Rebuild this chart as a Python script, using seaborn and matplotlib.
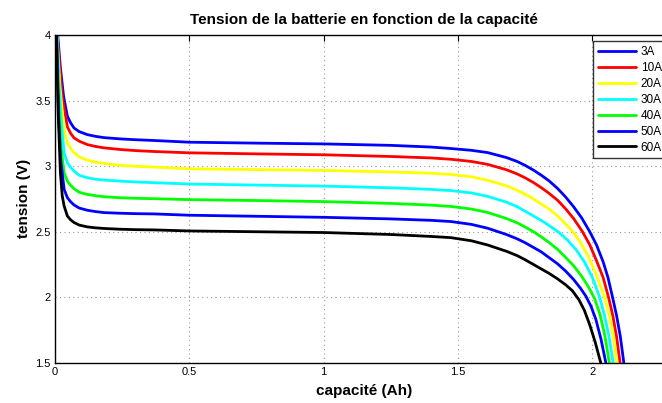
import numpy as np
import pandas as pd
import seaborn as sns
import matplotlib.pyplot as plt
from matplotlib import ticker

# courbes de décharge : capacité (Ah) / tension (V)
cap_3A = [0, 0.010, 0.020, 0.032, 0.046, 0.058, 0.071, 0.09, 0.12, 0.15, 0.182, 0.245, 0.3,
          0.369, 0.5, 0.75, 1.0, 1.25, 1.4, 1.473, 1.55, 1.61, 1.68, 1.72, 1.75, 1.78, 1.81,
          1.84, 1.87, 1.90, 1.93, 1.96, 1.99, 2.015, 2.04, 2.058, 2.075, 2.09, 2.104, 2.117]
v_3A = [4.4, 4.0, 3.75, 3.53, 3.38, 3.33, 3.29, 3.263, 3.24, 3.227, 3.217, 3.207, 3.201,
        3.195, 3.182, 3.175, 3.169, 3.158, 3.145, 3.134, 3.12, 3.103, 3.065, 3.035, 3.005, 2.97, 2.93,
        2.885, 2.83, 2.765, 2.69, 2.605, 2.5, 2.40, 2.27, 2.15, 2.0, 1.86, 1.70, 1.5]

cap_10A = [0, 0.008, 0.018, 0.027, 0.046, 0.058, 0.071, 0.09, 0.12, 0.15, 0.182, 0.245, 0.3,
           0.369, 0.5, 0.75, 1.0, 1.25, 1.4, 1.473, 1.55, 1.61, 1.68, 1.72, 1.75, 1.78, 1.81,
           1.84, 1.87, 1.90, 1.93, 1.963, 1.99, 2.015, 2.04, 2.06, 2.076, 2.09, 2.103]
v_10A = [4.4, 4.0, 3.75, 3.53, 3.30, 3.25, 3.215, 3.19, 3.164, 3.15, 3.139, 3.126, 3.118,
         3.111, 3.101, 3.093, 3.086, 3.073, 3.062, 3.052, 3.035, 3.013, 2.972, 2.94, 2.91, 2.875, 2.835,
         2.79, 2.74, 2.675, 2.60, 2.5, 2.40, 2.28, 2.15, 2.0, 1.86, 1.70, 1.5]

cap_20A = [0, 0.007, 0.018, 0.027, 0.034, 0.046, 0.058, 0.071, 0.09, 0.12, 0.15, 0.182, 0.245,
           0.3, 0.369, 0.5, 0.75, 1.0, 1.25, 1.4, 1.473, 1.55, 1.61, 1.68, 1.72, 1.75, 1.78,
           1.81, 1.84, 1.87, 1.90, 1.925, 1.955, 1.985, 2.015, 2.045, 2.063, 2.078, 2.09]
v_20A = [4.4, 4.0, 3.62, 3.42, 3.278, 3.177, 3.135, 3.101, 3.07, 3.045, 3.03, 3.020, 3.005,
         2.998, 2.992, 2.979, 2.973, 2.967, 2.955, 2.945, 2.936, 2.918, 2.892, 2.85, 2.815, 2.785, 2.75,
         2.71, 2.67, 2.62, 2.56, 2.505, 2.42, 2.31, 2.17, 2.0, 1.86, 1.70, 1.5]

cap_30A = [0, 0.007, 0.016, 0.025, 0.034, 0.046, 0.058, 0.071, 0.09, 0.12, 0.15, 0.182, 0.245,
           0.3, 0.369, 0.5, 0.75, 1.0, 1.25, 1.4, 1.473, 1.55, 1.61, 1.68, 1.72, 1.75, 1.78,
           1.81, 1.84, 1.878, 1.91, 1.94, 1.97, 2.0, 2.027, 2.045, 2.062, 2.077]
v_30A = [4.4, 4.0, 3.6, 3.3, 3.101, 3.025, 2.99, 2.961, 2.93, 2.911, 2.90, 2.893, 2.885,
         2.879, 2.873, 2.863, 2.855, 2.847, 2.834, 2.822, 2.813, 2.795, 2.769, 2.725, 2.69, 2.655, 2.62,
         2.585, 2.545, 2.49, 2.43, 2.36, 2.27, 2.15, 2.0, 1.86, 1.70, 1.5]

cap_40A = [0, 0.006, 0.014, 0.022, 0.034, 0.046, 0.058, 0.071, 0.09, 0.12, 0.15, 0.182, 0.245,
           0.3, 0.369, 0.5, 0.75, 1.0, 1.25, 1.4, 1.473, 1.55, 1.61, 1.68, 1.72, 1.75, 1.78,
           1.81, 1.84, 1.87, 1.90, 1.93, 1.96, 1.985, 2.008, 2.028, 2.046, 2.063]
v_40A = [4.4, 4.0, 3.5, 3.15, 2.949, 2.885, 2.853, 2.827, 2.80, 2.784, 2.774, 2.766, 2.758,
         2.754, 2.751, 2.744, 2.737, 2.729, 2.715, 2.702, 2.692, 2.672, 2.646, 2.60, 2.567, 2.535, 2.50,
         2.46, 2.415, 2.365, 2.305, 2.24, 2.16, 2.08, 1.99, 1.87, 1.71, 1.5]

cap_50A = [0, 0.006, 0.013, 0.021, 0.034, 0.046, 0.058, 0.071, 0.09, 0.12, 0.15, 0.182, 0.245,
           0.3, 0.369, 0.5, 0.75, 1.0, 1.25, 1.4, 1.473, 1.55, 1.61, 1.68, 1.72, 1.75, 1.78,
           1.81, 1.84, 1.87, 1.90, 1.93, 1.955, 1.975, 1.995, 2.013, 2.032, 2.05]
v_50A = [4.4, 4.0, 3.4, 3.05, 2.822, 2.759, 2.728, 2.703, 2.68, 2.663, 2.653, 2.645, 2.64,
         2.637, 2.635, 2.625, 2.617, 2.609, 2.597, 2.586, 2.577, 2.555, 2.526, 2.478, 2.445, 2.415, 2.38,
         2.345, 2.30, 2.255, 2.20, 2.135, 2.07, 2.01, 1.93, 1.83, 1.68, 1.5]

cap_60A = [0, 0.005, 0.012, 0.020, 0.027, 0.034, 0.046, 0.058, 0.071, 0.09, 0.12, 0.15, 0.182,
           0.245, 0.3, 0.369, 0.5, 0.75, 1.0, 1.25, 1.4, 1.473, 1.55, 1.61, 1.68, 1.72, 1.75,
           1.78, 1.81, 1.84, 1.87, 1.90, 1.925, 1.95, 1.97, 1.99, 2.01, 2.031]
v_60A = [4.4, 4.0, 3.4, 2.95, 2.771, 2.695, 2.619, 2.59, 2.569, 2.55, 2.536, 2.529, 2.524,
         2.518, 2.515, 2.513, 2.505, 2.499, 2.493, 2.478, 2.463, 2.454, 2.43, 2.398, 2.35, 2.317, 2.285,
         2.25, 2.215, 2.18, 2.14, 2.095, 2.05, 1.98, 1.90, 1.79, 1.66, 1.5]

courants = ['3A', '10A', '20A', '30A', '40A', '50A', '60A']
couleurs = ['#0000ff', '#ff0000', '#ffff00', '#00ffff', '#00ff00', '#0000ff', '#000000']
capacites = [cap_3A, cap_10A, cap_20A, cap_30A, cap_40A, cap_50A, cap_60A]
tensions = [v_3A, v_10A, v_20A, v_30A, v_40A, v_50A, v_60A]

x_ticks = [0, 0.5, 1, 1.5, 2]
y_ticks = [1.5, 2, 2.5, 3, 3.5, 4]

frames = []
for nom, c, v in zip(courants, capacites, tensions):
    frames.append(pd.DataFrame({'capacite': c, 'tension': v, 'courant': nom}))
df = pd.concat(frames, ignore_index=True)

sns.set_style('white')
plt.rcParams['font.family'] = ['Liberation Sans', 'DejaVu Sans']
plt.rcParams['text.color'] = 'black'
plt.rcParams['axes.labelcolor'] = 'black'

fig = plt.figure(figsize=(6.62, 4.03), dpi=100)
ax = fig.add_axes([0.0831, 0.1, 0.9335, 0.8132])

sns.lineplot(data=df, x='capacite', y='tension', hue='courant', hue_order=courants,
             palette=dict(zip(courants, couleurs)), sort=False, estimator=None,
             linewidth=2.0, ax=ax)

ax.set_xlim(0, 2.3)
ax.set_ylim(1.5, 4)
ax.xaxis.set_major_locator(ticker.FixedLocator(x_ticks))
ax.yaxis.set_major_locator(ticker.FixedLocator(y_ticks))
ax.xaxis.set_major_formatter(ticker.FormatStrFormatter('%g'))
ax.yaxis.set_major_formatter(ticker.FormatStrFormatter('%g'))
ax.tick_params(direction='in', length=4, width=0.8, labelsize=8, colors='black',
               top=True, right=True, pad=3)
ax.grid(True, linestyle=(0, (1, 3)), color='#999999', linewidth=0.8)
for s in ax.spines.values():
    s.set_color('black')
    s.set_linewidth(1.0)

ax.set_title('Tension de la batterie en fonction de la capacité', fontsize=11,
             fontweight='bold', pad=8, color='black')
ax.set_xlabel('capacité (Ah)', fontsize=11, fontweight='bold', labelpad=5)
ax.set_ylabel('tension (V)', fontsize=11, fontweight='bold', labelpad=3)

leg = ax.legend(loc='upper right', fontsize=8.5, handlelength=3.2, frameon=True,
                fancybox=False, edgecolor='black', borderaxespad=0.55,
                labelspacing=0.33, borderpad=0.4, handletextpad=0.4)
leg.get_frame().set_linewidth(1.0)
for line in leg.get_lines():
    line.set_linewidth(2.0)

plt.savefig('out.png', dpi=100)
